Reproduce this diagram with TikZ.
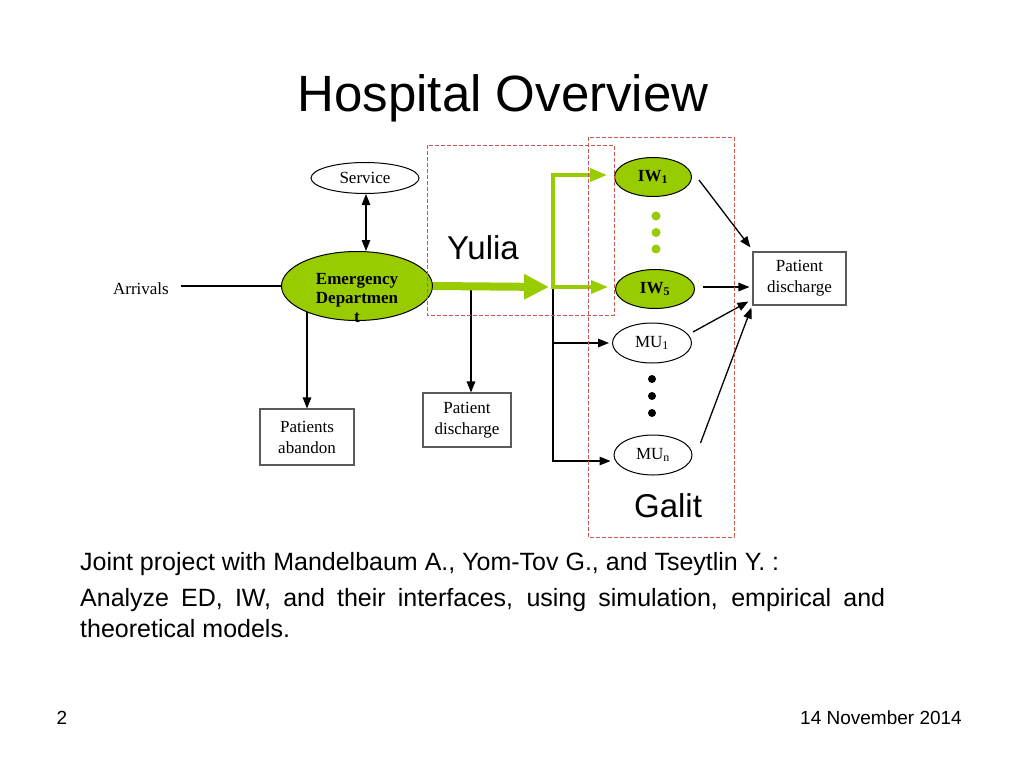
\documentclass[tikz,border=0pt]{standalone}
\usepackage{fontspec}
\setmainfont{Liberation Serif}
\newfontfamily\arial{Liberation Sans}
\usetikzlibrary{shapes.geometric,arrows.meta,calc,backgrounds}
\definecolor{edgreen}{RGB}{153,204,0}
\definecolor{dashred}{RGB}{200,90,80}
\definecolor{boxgray}{RGB}{90,90,90}
\hyphenpenalty=10000
\exhyphenpenalty=10000
\begin{document}
\begin{tikzpicture}[x=1pt,y=-1pt,
  ell/.style={ellipse,draw=black,line width=1pt,inner sep=0pt},
  gell/.style={ell,fill=edgreen},
  serif/.style={font=\fontsize{17}{20}\selectfont},
  box/.style={rectangle,draw=boxgray,line width=1.1pt,inner sep=0pt,align=center,font=\fontsize{17}{21}\selectfont},
  conn/.style={line width=1.3pt,black},
  arr/.style={conn,-{Triangle[length=11pt,width=8.5pt]}},
  darr/.style={conn,{Triangle[length=11pt,width=8.5pt]}-{Triangle[length=11pt,width=8.5pt]}},
  garr/.style={line width=3.5pt,edgreen,line join=miter,-{Triangle[length=17pt,width=13pt]}},
  bigarr/.style={line width=8pt,edgreen,-{Triangle[length=25pt,width=24pt]}},
  dbox/.style={dashred,line width=0.8pt,dash pattern=on 4pt off 2pt},
  big/.style={font=\arial\fontsize{33}{36}\selectfont},
  body/.style={font=\arial\fontsize{25}{31}\selectfont},
  foot/.style={font=\arial\fontsize{19}{22}\selectfont},
]
\useasboundingbox (0,0) rectangle (1024,768);

% title
\node[anchor=base,font=\arial\fontsize{51}{56}\selectfont] (title) at (503,111) {Hospital Overview};

% nodes
\node[ell,minimum width=108pt,minimum height=31pt,serif] (sv) at (365,178) {Service};
\node[gell,minimum width=151pt,minimum height=69pt] (ed) at (357,286) {};
\node[align=center,font=\bfseries\fontsize{17}{19}\selectfont,inner sep=0pt] (edt) at (357,298) {Emergency\\Departmen\\t};
\node[serif,anchor=east,inner sep=0pt] (arr) at (169,289) {Arrivals};
\node[box,minimum width=94pt,minimum height=56pt] (ab) at (307,437) {Patients\\abandon};
\node[box,minimum width=88pt,minimum height=54pt] (pd1) at (467,420) {Patient\\discharge};
\node[box,minimum width=93pt,minimum height=53pt] (pd2) at (799.5,278.5) {Patient\\discharge};
\node[gell,minimum width=77pt,minimum height=39pt,font=\bfseries\fontsize{17}{20}\selectfont] (iw1) at (653,177) {IW\textsubscript{1}};
\node[gell,minimum width=79pt,minimum height=39pt,font=\bfseries\fontsize{17}{20}\selectfont] (iw5) at (655,289) {IW\textsubscript{5}};
\node[ell,minimum width=79pt,minimum height=40pt,serif] (mu1) at (652,343) {MU\textsubscript{1}};
\node[ell,minimum width=78pt,minimum height=40pt,serif] (mun) at (653,455) {MU\textsubscript{n}};

\coordinate (br) at (553,287);
\coordinate (j1) at (471,287);
\coordinate (arrs) at ($(arr.east)+(12,0)$);
\coordinate (p5) at (pd2.west |- iw5.east);

\begin{pgfonlayer}{background}
\fill[white] (0,0) rectangle (1024,768);
\draw[arr] (ab.north |- ed.center) -- (ab.north);
\end{pgfonlayer}

% connectors
\draw[conn] (arrs |- ed.west) -- (ed.west);
\draw[darr] ($(sv.south)+(1,0)$) -- ($(sv.south |- ed.north)+(1,0)$);
\draw[arr] (j1) -- (j1 |- pd1.north);
\draw[arr] (br) |- ($(mu1.west)+(-3,0)$);
\draw[arr] (br) |- ($(mun.west)+(-3,6)$);
\draw[bigarr] (ed.east) -- ($(br)+(-4,0)$);
\draw[garr] ($(br)+(0,1.75)$) |- ($(iw1.west)+(-7,-2)$);
\draw[garr] (br) -- ($(iw5.west)+(-7,-2)$);
\draw[arr] ($(iw1.east)+(7,3)$) -- ($(pd2.north west)+(-2,-4)$);
\draw[arr] ($(iw5.east)+(8,-2)$) -- ($(p5)+(-3,-2)$);
\draw[arr] ($(mu1.east)+(1,-11)$) -- ($(pd2.west)+(-4,23)$);
\draw[arr] ($(mun.east)+(8,-12)$) -- ($(pd2.south west)+(-1,2)$);

% dots
\fill[edgreen] (656,216) circle (4.5) (656,232.5) circle (4.5) (656,249) circle (4.5);
\fill[black] (652,379) circle (4) (652,396) circle (4) (652,413) circle (4);

% dashed groups
\draw[dbox] (427,145) rectangle (614,315);
\draw[dbox] (588,137) rectangle (734,537);
\node[big,anchor=base] (yl) at (483,259) {Yulia};
\node[big,anchor=base] (gl) at (668,517) {Galit};

% text
\node[body,anchor=base west,inner sep=0pt] (t1) at (80,570) {Joint project with Mandelbaum A., Yom-Tov G., and Tseytlin Y. :};
\node[body,anchor=base west,inner sep=0pt,text width=805pt,align=justify] (t2) at (80,606) {Analyze ED, IW, and their interfaces, using simulation, empirical and theoretical models.};

\node[foot,anchor=base] (pg) at (62,724) {2};
\node[foot,anchor=base east,inner sep=0pt] (dt) at (962,724) {14 November 2014};
\end{tikzpicture}
\end{document}
